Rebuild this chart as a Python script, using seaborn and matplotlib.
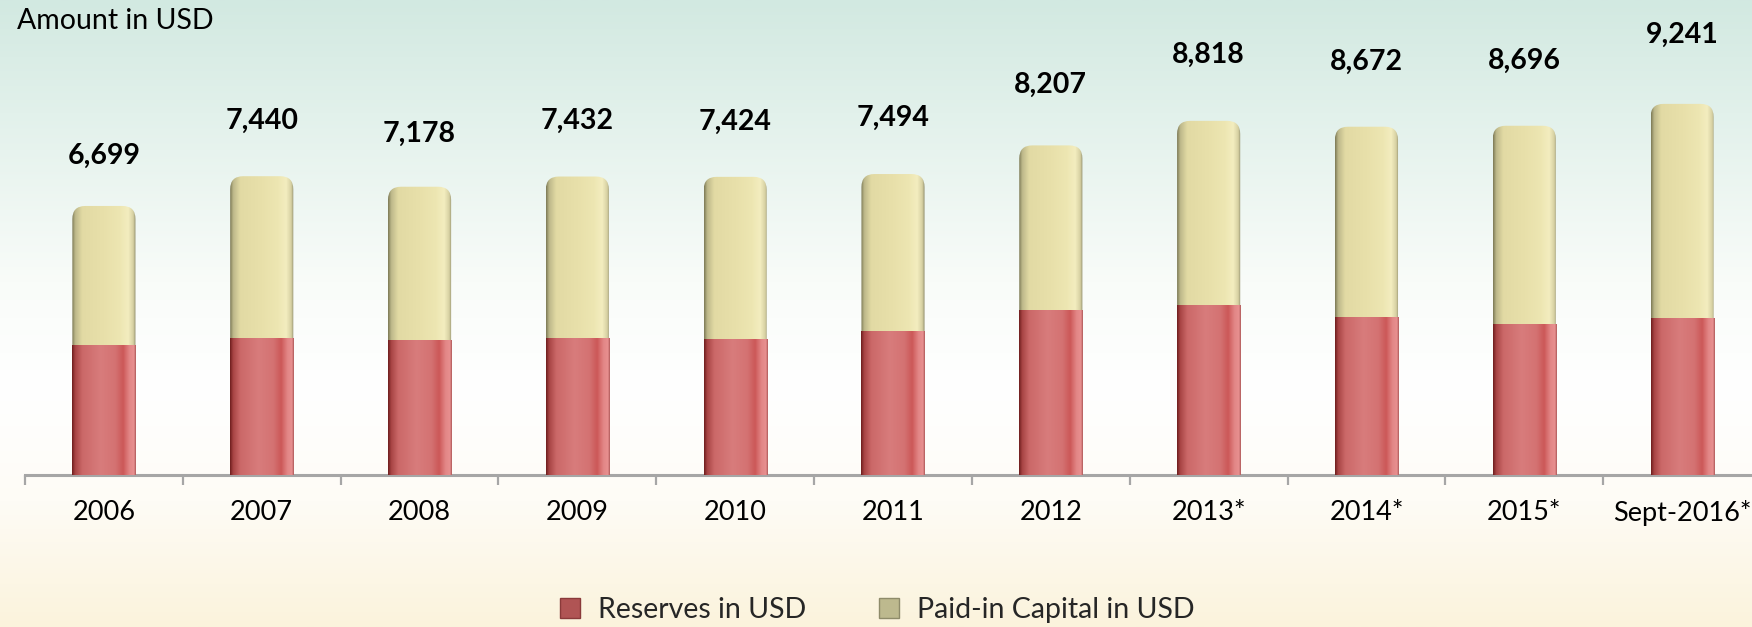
import numpy as np
import pandas as pd
import matplotlib
matplotlib.use("Agg")
import matplotlib.pyplot as plt
import seaborn as sns
from matplotlib.patches import FancyBboxPatch
from matplotlib.colors import LinearSegmentedColormap
from matplotlib.lines import Line2D

# ---------------- data ----------------
categories = ["2006", "2007", "2008", "2009", "2010", "2011", "2012",
              "2013*", "2014*", "2015*", "Sept-2016*"]
totals = [6699, 7440, 7178, 7432, 7424, 7494, 8207, 8818, 8672, 8696, 9241]
reserves = [3235, 3422, 3355, 3416, 3376, 3596, 4115, 4234, 3938, 3770, 3898]
paid_in = [t - r for t, r in zip(totals, reserves)]
series_names = ["Reserves in USD", "Paid-in Capital in USD"]
y_title = "Amount in USD"

# ---------------- style ----------------
sns.set_theme(style="white")
plt.rcParams["font.family"] = ["Lato", "DejaVu Sans"]

W, H = 1752, 627
fig = plt.figure(figsize=(W / 100, H / 100), dpi=100)

# background gradient
bg = fig.add_axes([0, 0, 1, 1], zorder=-10)
bg_cmap = LinearSegmentedColormap.from_list(
    "bg", [(0.0, "#D2E9E1"), (0.18, "#E2F1EB"), (0.45, "#F9FCF9"),
           (0.62, "#FFFFFF"), (0.80, "#FEFCF6"), (1.0, "#FBF3DC")])
bg.imshow(np.linspace(0, 1, 256).reshape(-1, 1), aspect="auto", cmap=bg_cmap,
          extent=[0, 1, 0, 1], origin="upper")
bg.set_axis_off()

# main axes
ymax = 11500
ax_left, ax_w = 25 / W, 1736 / W
ax_bottom = (H - 475) / H
ax_h_px = ymax / 24.9
ax = fig.add_axes([ax_left, ax_bottom, ax_w, ax_h_px / H])
ax.patch.set_alpha(0)

df = pd.DataFrame({"category": categories, "total": totals,
                   "reserves": reserves, "paid_in": paid_in})

yellow = "#E8E0AA"
red = "#D67A7A"
sns.barplot(data=df, x="category", y="total", color=yellow, width=0.4,
            saturation=1, ax=ax, order=categories)
sns.barplot(data=df, x="category", y="reserves", color=red, width=0.4,
            saturation=1, ax=ax, order=categories)

n = len(categories)
ax.set_xlim(-0.5, n - 0.5)
ax.set_ylim(0, ymax)

red_cmap = LinearSegmentedColormap.from_list(
    "r", [(0, "#6E1E1E"), (0.05, "#A84444"), (0.16, "#CB6868"), (0.45, "#D87C7C"),
          (0.68, "#D47272"), (0.80, "#CC5858"), (0.90, "#E28686"), (0.97, "#E89090"),
          (1, "#B05A5A")])
yel_cmap = LinearSegmentedColormap.from_list(
    "y", [(0, "#7C7A56"), (0.05, "#BDB88A"), (0.16, "#E2DAA4"), (0.5, "#E8E0AA"),
          (0.75, "#EDE6B2"), (0.88, "#F3EDBF"), (0.96, "#D6D0A2"), (1, "#8E8B6A")])
grad = np.linspace(0, 1, 256).reshape(1, -1)

x_px_per_unit = ax_w * W / n
y_units_per_px = ymax / ax_h_px
r_px = 13
r_x = r_px / x_px_per_unit
m_aspect = (r_px * y_units_per_px) / r_x

patches = list(ax.patches)
for i, p in enumerate(patches):
    x, w, h = p.get_x(), p.get_width(), p.get_height()
    if i < n:  # total bar (paid-in visible part), rounded top
        clip = FancyBboxPatch((x, 0), w, h,
                              boxstyle=f"round,pad=0,rounding_size={r_x}",
                              mutation_aspect=m_aspect, transform=ax.transData,
                              facecolor="none", edgecolor="none")
        ax.add_patch(clip)
        p.set_visible(False)
        im = ax.imshow(grad, aspect="auto", cmap=yel_cmap,
                       extent=[x, x + w, 0, h], zorder=2)
        im.set_clip_path(clip)
    else:
        p.set_facecolor("none")
        p.set_edgecolor("none")
        im = ax.imshow(grad, aspect="auto", cmap=red_cmap,
                       extent=[x, x + w, 0, h], zorder=3)
        im.set_clip_path(p)

ax.set_xlim(-0.5, n - 0.5)
ax.set_ylim(0, ymax)

# total labels
for i, t in enumerate(totals):
    ax.text(i, t * 1.185, f"{t:,}", ha="center", va="center",
            fontsize=20.5, fontweight="bold", color="black")

# axes styling
for s in ["top", "right", "left"]:
    ax.spines[s].set_visible(False)
ax.spines["bottom"].set_color("#A6A6A6")
ax.spines["bottom"].set_linewidth(2.2)
ax.set_yticks([])
ax.set_ylabel("")
ax.set_xlabel("")
ax.set_xticks(range(n))
ax.set_xticklabels(categories, fontsize=19.5, color="black")
ax.tick_params(axis="x", which="major", length=0, pad=18, bottom=True)
ax.set_xticks(np.arange(-0.5, n, 1.0), minor=True)
ax.tick_params(axis="x", which="minor", length=7, width=1.6, color="#A6A6A6",
               direction="out", bottom=True)

fig.text(17 / W, 1 - 21 / H, y_title, ha="left", va="center", fontsize=20.5,
         color="black")

handles = [Line2D([], [], marker="s", linestyle="none", markersize=14,
                  markerfacecolor="#B05454", markeredgecolor="#8A3A3A"),
           Line2D([], [], marker="s", linestyle="none", markersize=14,
                  markerfacecolor="#BDB98E", markeredgecolor="#8E8B6A")]
fig.legend(handles, series_names, loc="center", bbox_to_anchor=(0.4995, 17 / H),
           ncol=2, frameon=False, fontsize=20.5, handletextpad=0.5,
           columnspacing=2.4, handlelength=1.0)

fig.savefig("out.png", dpi=100)
